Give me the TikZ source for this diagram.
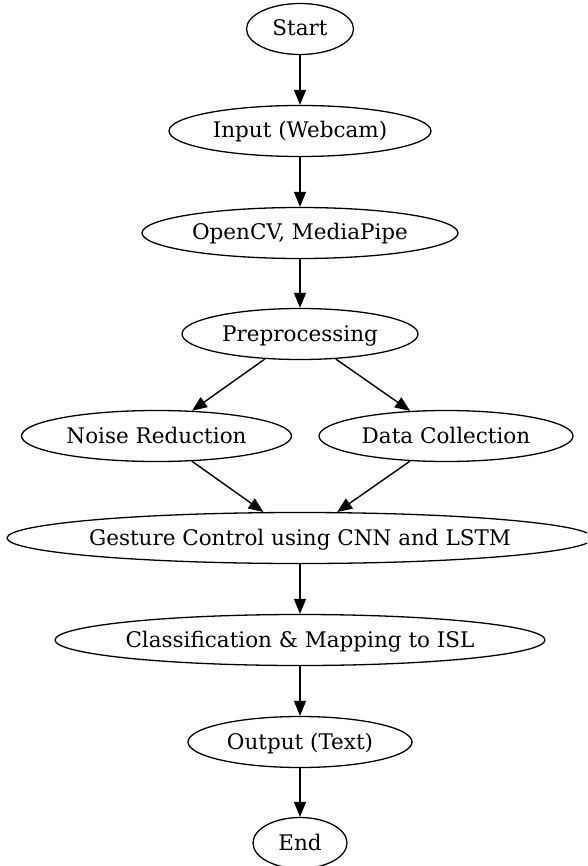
\documentclass[tikz,border=0pt]{standalone}
\usepackage{fontspec}
\setmainfont{DejaVu Serif}
\usetikzlibrary{shapes.geometric,arrows.meta}
\newcommand\gvtext[1]{\makebox[0pt]{\raisebox{-7pt}[0pt][0pt]{#1}}}
\tikzset{
  gvnode/.style={ellipse, draw, line width=1.3pt, inner sep=0pt, minimum height=51pt,
    font=\fontsize{21.5}{26}\selectfont},
  gvedge/.style={line width=1.4pt, -{Triangle[length=15pt,width=12pt]}}
}
\begin{document}
\begin{tikzpicture}[x=1pt,y=-1pt]
\fill[white] (0,0) rectangle (587,866);
\useasboundingbox (0,0) rectangle (587,866);
\clip (0,0) rectangle (587,866);
\node[gvnode, minimum width=107pt] (start) at (300,29) {\gvtext{Start}};
\node[gvnode, minimum width=262pt] (input) at (300,131) {\gvtext{Input (Webcam)}};
\node[gvnode, minimum width=316pt] (cv) at (300,233) {\gvtext{OpenCV, MediaPipe}};
\node[gvnode, minimum width=236pt] (pre) at (300,334) {\gvtext{Preprocessing}};
\node[gvnode, minimum width=270pt] (noise) at (156.5,436) {\gvtext{Noise Reduction}};
\node[gvnode, minimum width=254pt] (data) at (446,436) {\gvtext{Data Collection}};
\node[gvnode, minimum width=586pt] (gesture) at (300,538) {\gvtext{Gesture Control using CNN and LSTM}};
\node[gvnode, minimum width=490pt] (cls) at (300,640) {\gvtext{Classification \& Mapping to ISL}};
\node[gvnode, minimum width=224pt] (out) at (300,742) {\gvtext{Output (Text)}};
\node[gvnode, minimum width=94pt] (end) at (300,843) {\gvtext{End}};
\draw[gvedge] (start) -- (input);
\draw[gvedge] (input) -- (cv);
\draw[gvedge] (cv) -- (pre);
\draw[gvedge] (pre) -- (noise);
\draw[gvedge] (pre) -- (data);
\draw[gvedge] (noise) -- (gesture);
\draw[gvedge] (data) -- (gesture);
\draw[gvedge] (gesture) -- (cls);
\draw[gvedge] (cls) -- (out);
\draw[gvedge] (out) -- (end);
\end{tikzpicture}
\end{document}
